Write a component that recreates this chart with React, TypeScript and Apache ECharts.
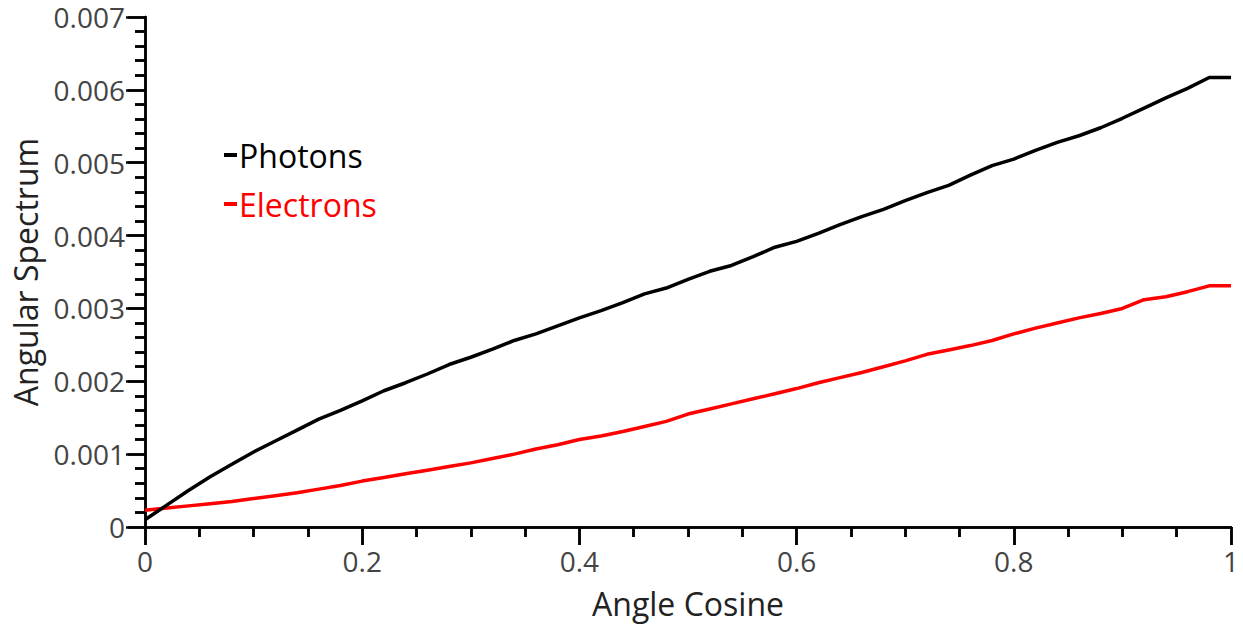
import React, { useEffect, useRef } from "react";
import * as echarts from "echarts";

const cosines: number[] = [
  0, 0.02, 0.04, 0.06, 0.08, 0.1, 0.12, 0.14, 0.16, 0.18, 0.2, 0.22, 0.24, 0.26, 0.28, 0.3, 0.32, 0.34,
  0.36, 0.38, 0.4, 0.42, 0.44, 0.46, 0.48, 0.5, 0.52, 0.54, 0.56, 0.58, 0.6, 0.62, 0.64, 0.66, 0.68,
  0.7, 0.72, 0.74, 0.76, 0.78, 0.8, 0.82, 0.84, 0.86, 0.88, 0.9, 0.92, 0.94, 0.96, 0.98, 1.0,
];

const photons: number[] = [
  0.0001, 0.0003, 0.0005, 0.00069, 0.00086, 0.00103, 0.00118, 0.00133, 0.00148, 0.0016, 0.00173,
  0.00187, 0.00198, 0.0021, 0.00223, 0.00233, 0.00244, 0.00256, 0.00265, 0.00276, 0.00287, 0.00297,
  0.00308, 0.0032, 0.00328, 0.0034, 0.00351, 0.00359, 0.00371, 0.00384, 0.00392, 0.00403, 0.00415,
  0.00426, 0.00436, 0.00448, 0.00459, 0.00469, 0.00483, 0.00496, 0.00505, 0.00517, 0.00528, 0.00537,
  0.00548, 0.00561, 0.00575, 0.00589, 0.00602, 0.00617, 0.00617,
];

const electrons: number[] = [
  0.00023, 0.00026, 0.00029, 0.00032, 0.00035, 0.00039, 0.00043, 0.00047, 0.00052, 0.00057, 0.00063,
  0.00068, 0.00073, 0.00078, 0.00083, 0.00088, 0.00094, 0.001, 0.00107, 0.00113, 0.0012, 0.00125,
  0.00131, 0.00138, 0.00145, 0.00155, 0.00162, 0.00169, 0.00176, 0.00183, 0.0019, 0.00198, 0.00205,
  0.00212, 0.0022, 0.00228, 0.00237, 0.00243, 0.00249, 0.00256, 0.00265, 0.00273, 0.0028, 0.00287,
  0.00293, 0.003, 0.00312, 0.00316, 0.00323, 0.00331, 0.00331,
];

const seriesNames = ["Photons", "Electrons"];
const seriesColors = ["#000000", "#ff0000"];

const FONT = "Open Sans";

export default function App() {
  const ref = useRef<HTMLDivElement>(null);
  useEffect(() => {
    if (!ref.current) return;
    const chart = echarts.init(ref.current, undefined, { renderer: "svg" });
    const axisLine = { show: true, lineStyle: { color: "#000", width: 2.5 } };
    const labelStyle = { color: "#444", fontSize: 28, fontFamily: FONT };
    chart.setOption({
      animation: false,
      backgroundColor: "#fff",
      grid: { left: 145, right: 12, top: 17, bottom: 100, containLabel: false },
      legend: {
        orient: "vertical",
        left: 219,
        top: 134,
        itemGap: 17,
        itemWidth: 13,
        itemHeight: 4,
        icon: "rect",
        textStyle: { fontSize: 32, fontFamily: FONT, padding: [0, 0, 0, -3] },
        data: seriesNames.map((n, i) => ({ name: n, textStyle: { color: seriesColors[i] } })),
      },
      xAxis: [
        {
          type: "value",
          min: 0,
          max: 1,
          interval: 0.2,
          position: "bottom",
          name: "Angle Cosine",
          nameLocation: "middle",
          nameGap: 60,
          nameTextStyle: { color: "#222", fontSize: 32, fontFamily: FONT },
          axisLine,
          axisTick: { show: true, inside: false, length: 18, lineStyle: { color: "#000", width: 2.5 } },
          minorTick: { show: true, splitNumber: 4, length: 10, lineStyle: { color: "#000", width: 2.5 } },
          axisLabel: {
            ...labelStyle,
            margin: 20,
            formatter: (v: number) => String(Math.round(v * 10) / 10),
          },
          splitLine: { show: false },
        },
        {
          type: "value",
          min: 0,
          max: 1,
          interval: 0.2,
          position: "top",
          axisLine,
          axisTick: { show: true, inside: true, length: 18, lineStyle: { color: "#000", width: 2.5 } },
          minorTick: { show: true, splitNumber: 4, length: 10, lineStyle: { color: "#000", width: 2.5 } },
          axisLabel: { show: false },
          splitLine: { show: false },
        },
      ],
      yAxis: [
        {
          type: "value",
          min: 0,
          max: 0.007,
          interval: 0.001,
          position: "left",
          name: "Angular Spectrum",
          nameLocation: "middle",
          nameGap: 104,
          nameTextStyle: { color: "#222", fontSize: 32, fontFamily: FONT },
          axisLine,
          axisTick: { show: true, inside: false, length: 17, lineStyle: { color: "#000", width: 2.5 } },
          minorTick: { show: true, splitNumber: 5, length: 10, lineStyle: { color: "#000", width: 2.5 } },
          axisLabel: {
            ...labelStyle,
            margin: 20,
            formatter: (v: number) => (v === 0 ? "0" : v.toFixed(3)),
          },
          splitLine: { show: false },
        },
        {
          type: "value",
          min: 0,
          max: 0.007,
          interval: 0.001,
          position: "right",
          axisLine,
          axisTick: { show: true, inside: true, length: 19, lineStyle: { color: "#000", width: 2.5 } },
          minorTick: { show: true, splitNumber: 5, length: 10, lineStyle: { color: "#000", width: 2.5 } },
          axisLabel: { show: false },
          splitLine: { show: false },
        },
      ],
      series: [
        {
          name: seriesNames[0],
          type: "line",
          xAxisIndex: 0,
          yAxisIndex: 0,
          showSymbol: false,
          symbol: "none",
          lineStyle: { color: seriesColors[0], width: 3.5 },
          itemStyle: { color: seriesColors[0] },
          data: cosines.map((c, i) => [c, photons[i]]),
          z: 3,
        },
        {
          name: seriesNames[1],
          type: "line",
          xAxisIndex: 0,
          yAxisIndex: 0,
          showSymbol: false,
          symbol: "none",
          lineStyle: { color: seriesColors[1], width: 3.5 },
          itemStyle: { color: seriesColors[1] },
          data: cosines.map((c, i) => [c, electrons[i]]),
          z: 2,
        },
      ],
    });
    return () => chart.dispose();
  }, []);
  return (
    <div
      ref={ref}
      style={{ position: "fixed", left: 0, top: 0, width: 1243, height: 627, background: "#fff" }}
    />
  );
}
